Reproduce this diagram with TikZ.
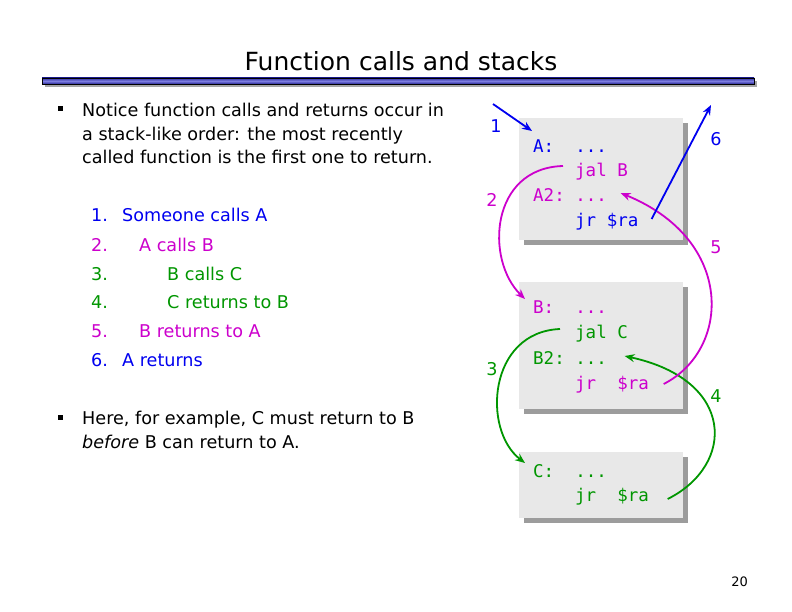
\documentclass[tikz,border=0pt]{standalone}
\usepackage{fontspec}
\setmainfont{DejaVu Sans}
\setmonofont{DejaVu Sans Mono}
\usetikzlibrary{arrows.meta, positioning, calc, shadows}
\definecolor{callblue}{RGB}{0,0,240}
\definecolor{callmag}{RGB}{204,0,204}
\definecolor{callgreen}{RGB}{0,150,0}

\begin{document}
\begin{tikzpicture}[x=1bp, y=-1bp,
    txt/.style = {anchor=base west, inner sep=0pt, font=\fontsize{17.6bp}{20bp}\selectfont},
    code/.style = {anchor=base west, inner sep=0pt, font=\fontsize{17.5bp}{20bp}\selectfont\ttfamily},
    codebox/.style = {rectangle, fill=black!9, minimum width=164bp, drop shadow={shadow xshift=5bp, shadow yshift=-5bp, fill=black!55, opacity=0.7}},
    bullet/.style = {rectangle, fill=black, minimum size=5bp, inner sep=0pt},
    steplab/.style = {inner sep=0pt, font=\fontsize{17.6bp}{20bp}\selectfont},
    call/.style = {line width=1.8bp, -{Stealth[length=10bp, width=8bp]}}]
        \fill[white] (0,0) rectangle (792,612);
        \useasboundingbox (0,0) rectangle (792,612);
        % title and bar
        \node[inner sep=0pt, anchor=base, font=\fontsize{25bp}{30bp}\selectfont] (title) at (401,71) {Function calls and stacks};
        \fill[black!35] (45,81) rectangle (757,87);
        \shade[top color={rgb,255:red,50;green,50;blue,160}, bottom color={rgb,255:red,40;green,40;blue,150}, middle color={rgb,255:red,125;green,125;blue,225}, draw=black] (42,78) rectangle (754,84);
        % left text
        \node[bullet] (b1) at (60,109) {};
        \node[txt] (l1) at (82,117) {Notice function calls and returns occur in};
        \node[txt] (l2) at (82,141) {a stack-like order: the most recently};
        \node[txt] (l3) at (82,164) {called function is the first one to return.};
        \foreach \n/\y/\x/\t/\c in {1/222/122/Someone calls A/callblue, 2/251/139/A calls B/callmag, 3/280/167/B calls C/callgreen, 4/308/167/C returns to B/callgreen, 5/337/139/B returns to A/callmag, 6/366/122/A returns/callblue} {
            \node[txt, text=\c] (num\n) at (91,\y) {\n.};
            \node[txt, text=\c] (item\n) at (\x,\y) {\t};
        }
        \node[bullet] (b2) at (60,417) {};
        \node[txt] (l4) at (82,424) {Here, for example, C must return to B};
        \node[txt] (l5) at (82,448) {\textit{before} B can return to A.};
        % code boxes
        \node[codebox, minimum height=121bp] (boxA) at (601,179) {};
        \node[codebox, minimum height=127bp] (boxB) at (601,345.5) {};
        \node[codebox, minimum height=66bp] (boxC) at (601,485) {};
        \node[code, text=callblue] (labA) at (533,153) {A:\ \ ...};
        \node[code, text=callmag] (jalB) at (575,177) {jal B};
        \node[code, text=callmag] (labA2) at (533,202) {A2: ...};
        \node[code, text=callblue] (retA) at (575,227) {jr \$ra};
        \node[code, text=callmag] (labB) at (533,313) {B:\ \ ...};
        \node[code, text=callgreen] (jalC) at (575,338) {jal C};
        \node[code, text=callgreen] (labB2) at (533,364) {B2: ...};
        \node[code, text=callmag] (retB) at (575,389) {jr\ \ \$ra};
        \node[code, text=callgreen] (labC) at (533,477) {C:\ \ ...};
        \node[code, text=callgreen] (retC) at (575,501) {jr\ \ \$ra};
        % calls and returns
        \coordinate (enter) at (493,104);
        \coordinate (exit) at (711,105);
        \draw[call, callblue] (enter) -- ([shift={(-1,-22)}]labA.base west);
        \draw[call, callmag] ([shift={(-12,-11)}]jalB.base west) .. controls +(-73,2) and +(-40,-39) .. ([shift={(-8,-14)}]labB.base west);
        \draw[call, callgreen] ([shift={(-15,-9)}]jalC.base west) .. controls +(-72,3) and +(-43,-33) .. ([shift={(-8,-14)}]labC.base west);
        \draw[call, callgreen] ([shift={(18.5,-2)}]retC.base east) .. controls +(68,-34) and +(111,24) .. ([shift={(17.5,-8)}]labB2.base east);
        \draw[call, callmag] ([shift={(14.5,-5)}]retB.base east) .. controls +(67,-34) and +(115,47) .. ([shift={(13.5,-9)}]labA2.base east);
        \draw[call, callblue] ([shift={(13,-8)}]retA.base east) -- (exit);
        \node[steplab, text=callblue] (st1) at (496,126) {1};
        \node[steplab, text=callmag] (st2) at (492,200) {2};
        \node[steplab, text=callgreen] (st3) at (492,369) {3};
        \node[steplab, text=callgreen] (st4) at (716,396) {4};
        \node[steplab, text=callmag] (st5) at (716,247) {5};
        \node[steplab, text=callblue] (st6) at (716,139) {6};
        \node[inner sep=0pt, anchor=base east, font=\fontsize{13bp}{15bp}\selectfont] (page) at (748,586) {20};
\end{tikzpicture}
\end{document}
